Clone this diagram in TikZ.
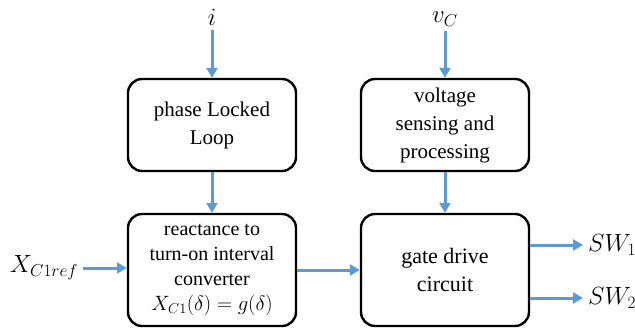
\documentclass[tikz,border=0pt]{standalone}
\usepackage{amsmath}
\usepackage{fontspec}
\setmainfont{Liberation Serif}
\usetikzlibrary{arrows.meta}
\definecolor{sigblue}{RGB}{91,155,213}

\begin{document}
\begin{tikzpicture}[x=1pt,y=-1pt,
  block/.style={rectangle,rounded corners=14pt,draw=black,line width=2.4pt,minimum width=168pt,align=center,inner sep=2pt},
  sig/.style={draw=sigblue,line width=3pt,-{Triangle[width=11pt,length=10pt]}},
  lbl/.style={inner sep=5pt,font=\fontsize{24}{28}\selectfont}]
  \useasboundingbox (0,0) rectangle (635,329);
  % blocks
  \node[block,minimum height=92pt,font=\fontsize{21}{28}\selectfont] (pll) at (212,125) {phase Locked\\Loop};
  \node[block,minimum height=92pt,font=\fontsize{21}{28}\selectfont] (vsp) at (445,125) {voltage\\sensing and\\processing};
  \node[block,minimum height=112pt,font=\fontsize{20}{25}\selectfont] (rtc) at (212,270) {reactance to\\turn-on interval\\converter\\$X_{C1}(\delta)=g(\delta)$};
  \node[block,minimum height=112pt,font=\fontsize{22}{28}\selectfont] (gdc) at (445,270) {gate drive\\circuit};
  % signals
  \node[lbl] (iin) at (212,17) {$i$};
  \node[lbl] (vin) at (445,19) {$v_C$};
  \node[lbl] (xin) at (44,268) {$X_{C1ref}$};
  \node[lbl,anchor=west] (sw1) at (583,245) {$SW_1$};
  \node[lbl,anchor=west] (sw2) at (583,298) {$SW_2$};
  \draw[sig] (iin) -- (pll);
  \draw[sig] (vin) -- (vsp);
  \draw[sig] (pll) -- (rtc);
  \draw[sig] (vsp) -- (gdc);
  \draw[sig] (xin) -- (xin -| rtc.west);
  \draw[sig] (rtc) -- (gdc);
  \draw[sig] ([yshift=25pt]gdc.east) -- (sw1.west);
  \draw[sig] ([yshift=-28pt]gdc.east) -- (sw2.west);
\end{tikzpicture}
\end{document}
